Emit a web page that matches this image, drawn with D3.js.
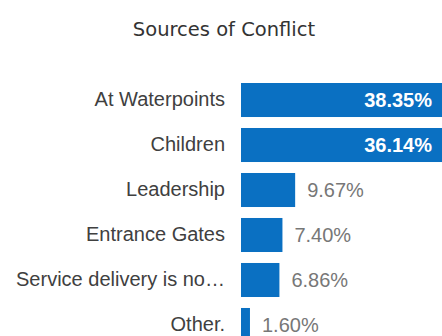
<!DOCTYPE html>
<html>
<head>
<meta charset="utf-8">
<script src="https://cdn.jsdelivr.net/npm/d3@7"></script>
<style>
  html, body { margin: 0; padding: 0; background: #fff; overflow: hidden; }
  svg { display: block; }
</style>
</head>
<body>
<svg id="chart" width="442" height="336"></svg>
<script>
// Sources of conflict, share of responses (%)
const categories = [
  "At Waterpoints",
  "Children",
  "Leadership",
  "Entrance Gates",
  "Service delivery is no\u2026",
  "Other."
];
const values = [38.35, 36.14, 9.67, 7.40, 6.86, 1.60];
const valueLabels = ["38.35%", "36.14%", "9.67%", "7.40%", "6.86%", "1.60%"];
const title = "Sources of Conflict";

const W = 442, H = 336;
const svg = d3.select("#chart");

const barColor = "#0a70c2";

const x = d3.scaleLinear().domain([0, 40]).range([241, 465]);
const y = d3.scaleBand()
  .domain(categories)
  .range([83, 342])
  .paddingInner(0.244)
  .paddingOuter(0);

svg.append("text")
  .attr("x", 224)
  .attr("y", 36)
  .attr("text-anchor", "middle")
  .attr("font-family", "'DejaVu Sans', Verdana, sans-serif")
  .attr("font-size", 19.5)
  .attr("fill", "#333")
  .text(title);

const rows = categories.map((c, i) => ({ c, v: values[i], label: valueLabels[i] }));

// category axis on the left, no line or ticks
const yAxis = d3.axisLeft(y).tickSize(0).tickPadding(16);
const gy = svg.append("g")
  .attr("transform", `translate(${x(0)},0)`)
  .call(yAxis);
gy.select(".domain").remove();
gy.selectAll("text")
  .attr("font-family", "'Liberation Sans', Arial, sans-serif")
  .attr("font-size", 20)
  .attr("fill", "#404040");

svg.append("g")
  .selectAll("rect")
  .data(rows)
  .join("rect")
  .attr("x", x(0))
  .attr("y", d => y(d.c))
  .attr("width", d => x(d.v) - x(0))
  .attr("height", y.bandwidth())
  .attr("fill", barColor);

// labels sit inside the bar when it reaches the right edge, otherwise beside it
const edge = W - 2;
svg.append("g")
  .selectAll("text")
  .data(rows)
  .join("text")
  .each(function (d) {
    const inside = x(d.v) > edge - 20;
    const t = d3.select(this)
      .attr("y", y(d.c) + y.bandwidth() / 2)
      .attr("dy", "0.36em")
      .attr("font-family", "'Liberation Sans', Arial, sans-serif")
      .attr("font-size", 20)
      .text(d.label);
    if (inside) {
      t.attr("x", Math.min(x(d.v), edge) - 8)
        .attr("text-anchor", "end")
        .attr("font-weight", "bold")
        .attr("fill", "#fff");
    } else {
      t.attr("x", x(d.v) + 12)
        .attr("text-anchor", "start")
        .attr("fill", "#777");
    }
  });
</script>
</body>
</html>
